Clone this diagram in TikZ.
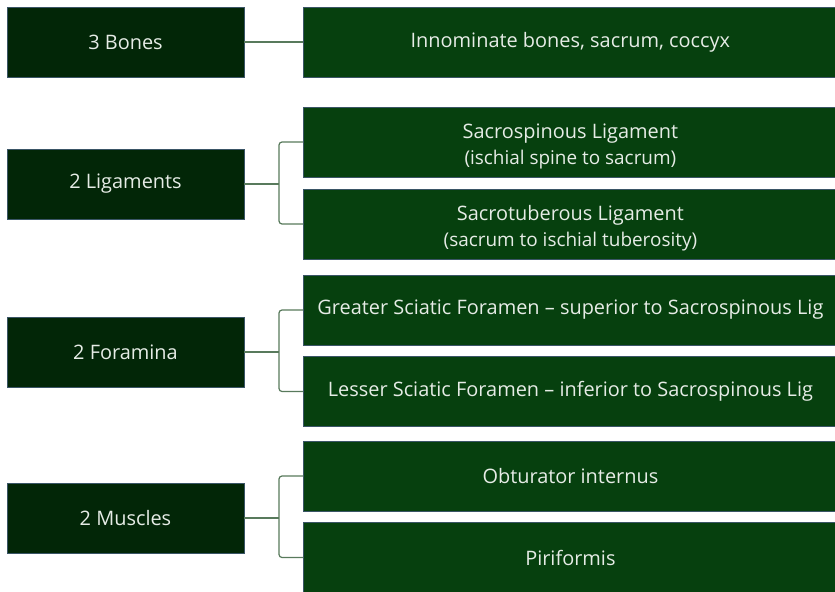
\documentclass[tikz,border=0pt]{standalone}
\usepackage{fontspec}
\setmainfont{Open Sans}
\definecolor{darkg}{HTML}{022607}
\definecolor{midg}{HTML}{06400E}
\definecolor{edgec}{HTML}{3A5566}
\definecolor{linec}{HTML}{587A5C}
\definecolor{txt}{HTML}{E6ECE6}
\newcommand{\twoline}[2]{\raisebox{-4.5bp}[\height][\depth]{\begin{tabular}{@{}c@{}}#1\\[0bp]{\fontsize{19}{26}\selectfont #2}\end{tabular}}}
\begin{document}
\begin{tikzpicture}[x=1bp,y=-1bp,
  leftbox/.style={draw=edgec, line width=0.8bp, fill=darkg, text=txt,
    minimum width=237bp, minimum height=70bp, inner sep=0pt,
    font=\fontsize{20}{26}\selectfont},
  rightbox/.style={draw=edgec, line width=0.8bp, fill=midg, text=txt,
    minimum width=534bp, minimum height=70bp, inner sep=0pt, anchor=west,
    font=\fontsize{20}{26}\selectfont},
  conn/.style={draw=linec, line width=1.2bp, rounded corners=3bp}]
\useasboundingbox (0,0) rectangle (835,592);
\clip (0,0) rectangle (835,592);
\fill[white] (0,0) rectangle (835,592);

% left boxes
\node[leftbox] (bones) at (125.5,42) {3 Bones};
\node[leftbox] (lig) at (125.5,184) {2 Ligaments};
\node[leftbox] (for) at (125.5,352) {2 Foramina};
\node[leftbox] (mus) at (125.5,518) {2 Muscles};

% right boxes
\node[rightbox] (bonesR) at (303,42) {Innominate bones, sacrum, coccyx};
\node[rightbox] (ssp) at (303,142) {\twoline{Sacrospinous Ligament}{(ischial spine to sacrum)}};
\node[rightbox] (stu) at (303,224) {\twoline{Sacrotuberous Ligament}{(sacrum to ischial tuberosity)}};
\node[rightbox] (gsf) at (303,310) {Greater Sciatic Foramen – superior to Sacrospinous Lig};
\node[rightbox] (lsf) at (303,391.5) {Lesser Sciatic Foramen – inferior to Sacrospinous Lig};
\node[rightbox] (obt) at (303,476) {Obturator internus};
\node[rightbox] (pir) at (303,557.5) {Piriformis};

% connectors
\draw[conn] (bones.east) -- (bonesR.west);

\coordinate (ligJ) at (279,184);
\draw[conn] (lig.east) -- (ligJ);
\draw[conn] (ssp.west) -| (ligJ) |- (stu.west);

\coordinate (forJ) at (279,352);
\draw[conn] (for.east) -- (forJ);
\draw[conn] (gsf.west) -| (forJ) |- (lsf.west);

\coordinate (musJ) at (279,518);
\draw[conn] (mus.east) -- (musJ);
\draw[conn] (obt.west) -| (musJ) |- (pir.west);
\end{tikzpicture}
\end{document}
